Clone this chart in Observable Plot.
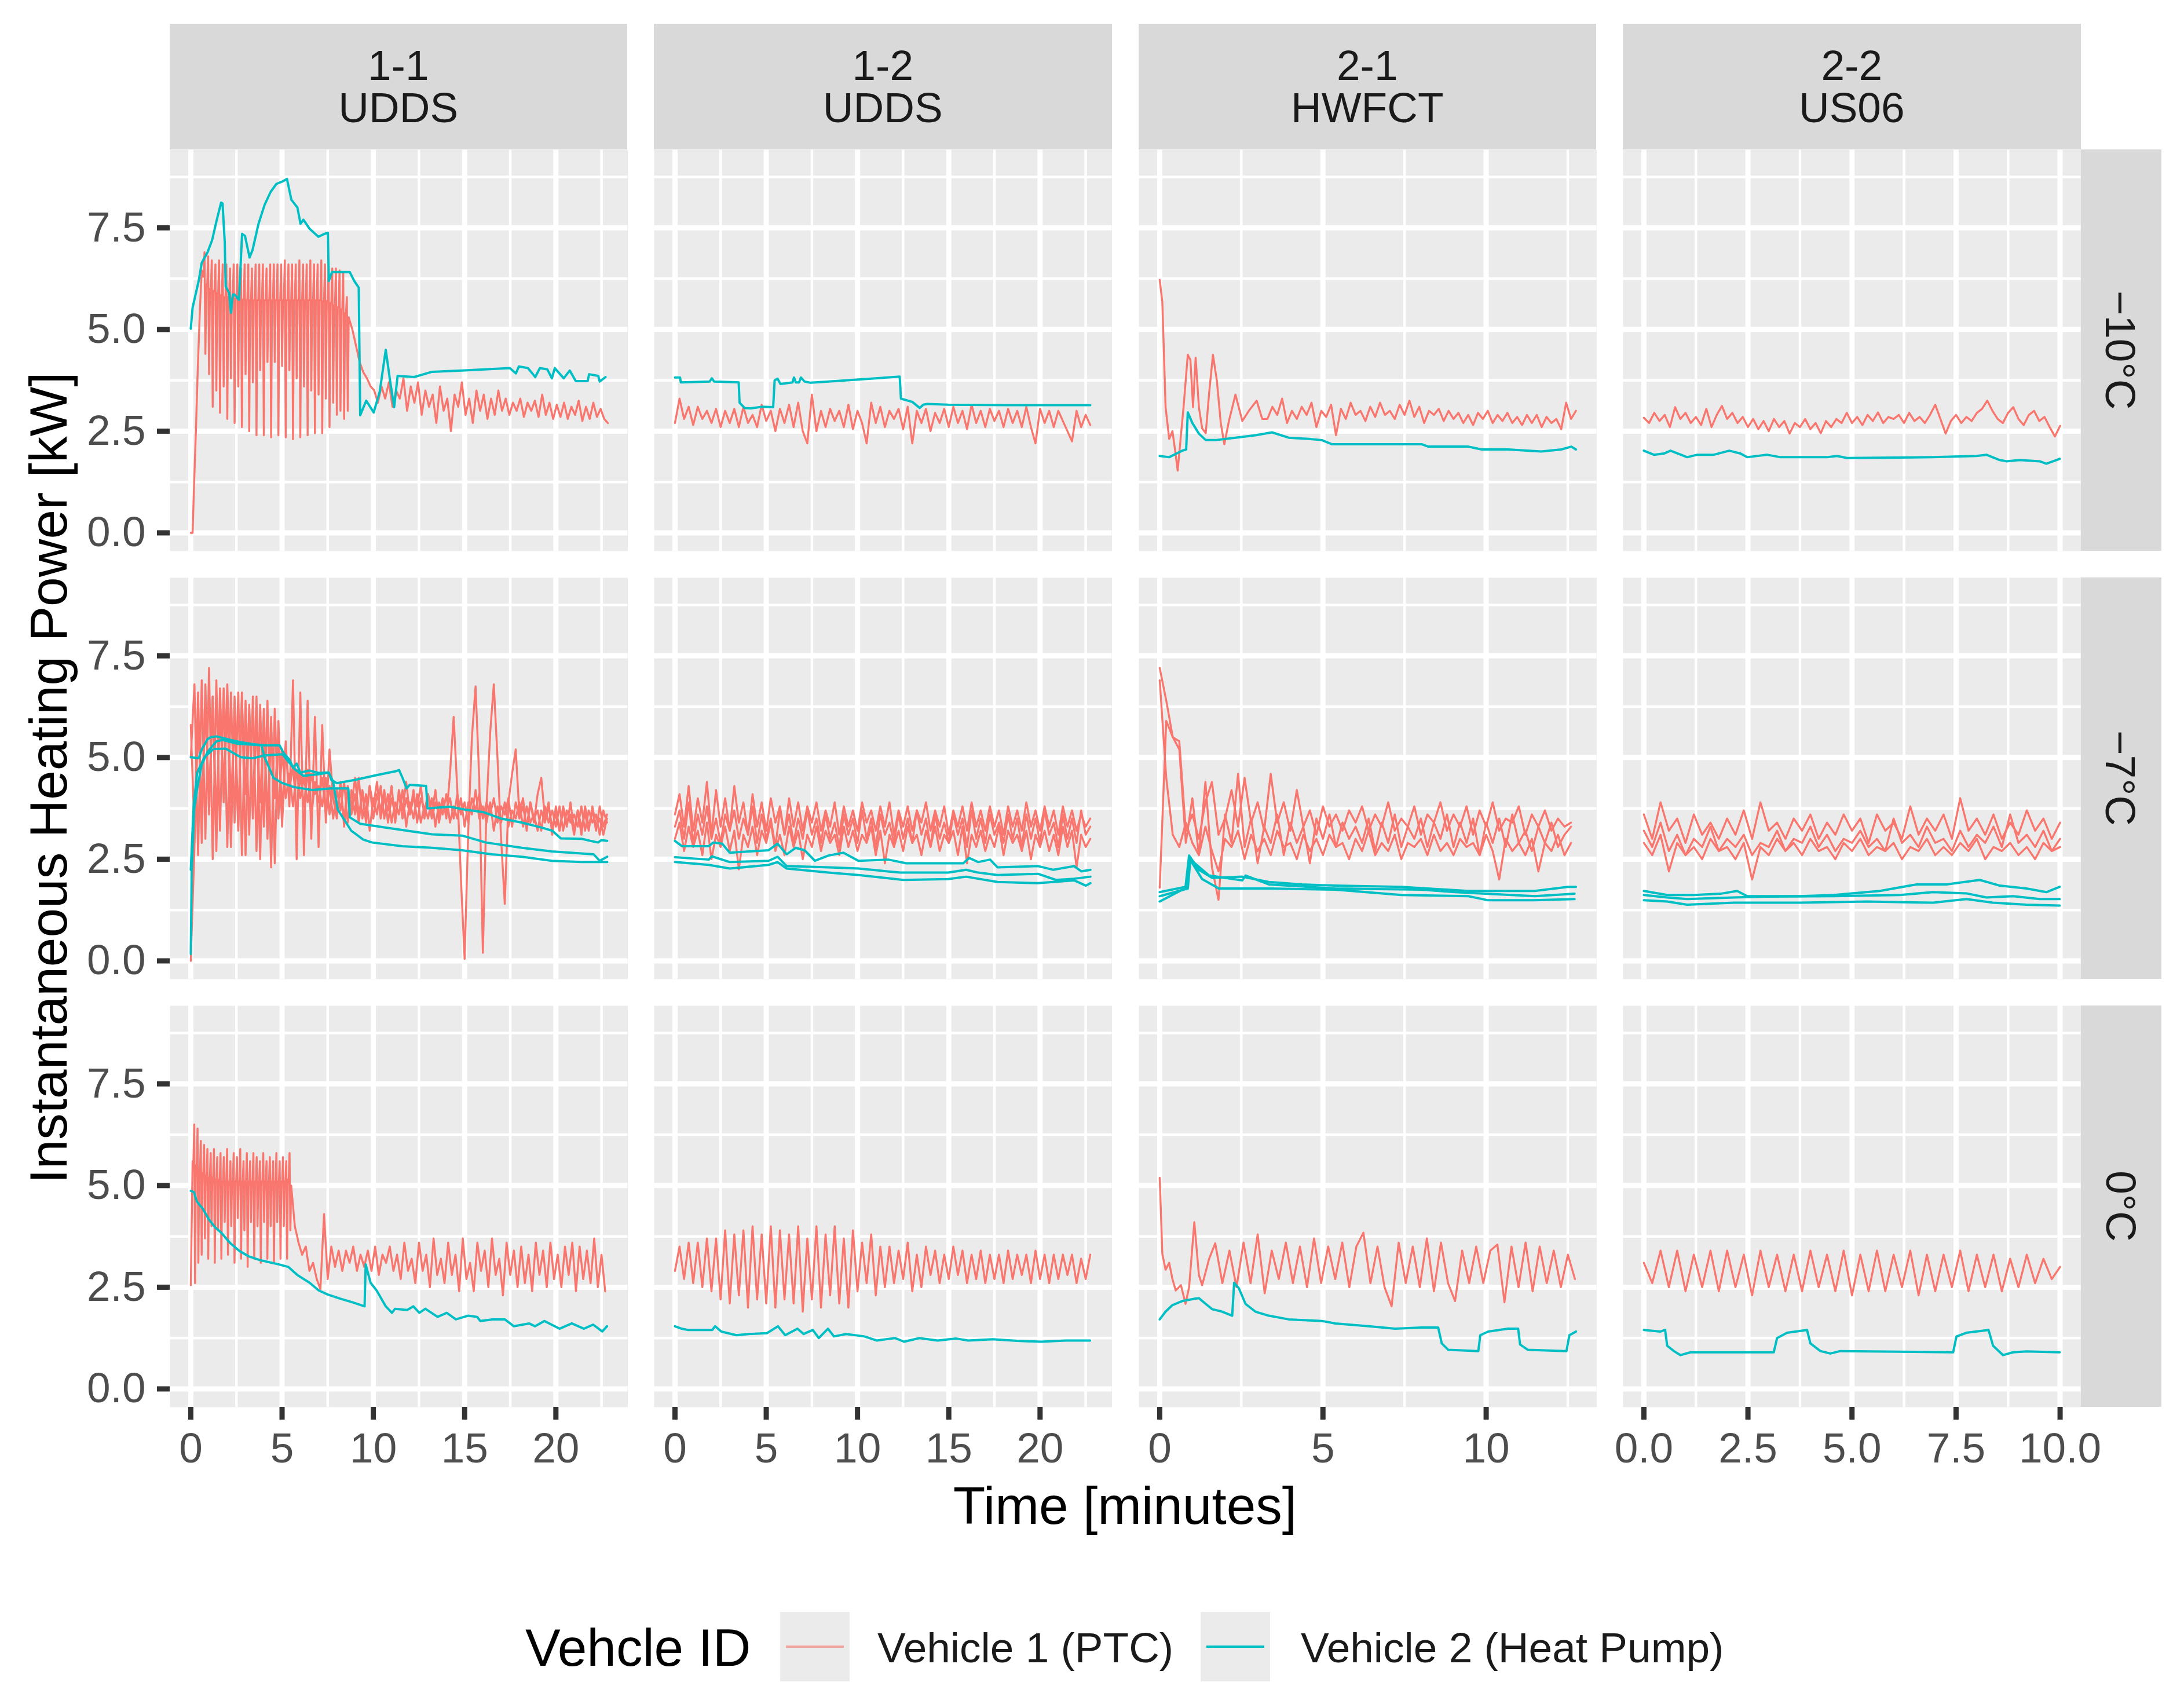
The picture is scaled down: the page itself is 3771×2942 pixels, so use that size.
<!DOCTYPE html>
<html>
<head>
<meta charset="utf-8">
<script src="https://cdn.jsdelivr.net/npm/d3@7"></script>
<script src="https://cdn.jsdelivr.net/npm/@observablehq/plot@0.6"></script>
<style>
  body { margin: 0; background: #fff; }
  #fig { position: relative; width: 3771px; height: 2942px; background: #fff; overflow: hidden;
         font-family: "Liberation Sans", Arial, Helvetica, sans-serif; color: #1A1A1A; }
  .strip { position: absolute; background: #D9D9D9; display: flex; align-items: center;
           justify-content: center; text-align: center; font-size: 73px; line-height: 73px; color: #1A1A1A; }
  .rstrip span { display: block; transform: rotate(90deg); white-space: nowrap; }
  .txt { position: absolute; white-space: nowrap; }
  .key { position: absolute; width: 120px; height: 120px; background: #EBEBEB; }
  .key div { position: absolute; left: 10px; right: 10px; top: 58px; height: 4px; }
</style>
</head>
<body>
<div id="fig"></div>
<script>
// ---- facets ----
const temps = ["\u221210\u00b0C", "\u22127\u00b0C", "0\u00b0C"];
const tests = ["1-1", "1-2", "2-1", "2-2"];
const cycles = ["UDDS", "UDDS", "HWFCT", "US06"];
const cycleMinutes = [22.8, 22.8, 12.75, 10];
const yMajor = [0, 2.5, 5, 7.5];
const yMinor = [1.25, 3.75, 6.25, 8.75];
const yLimits = [-0.449, 9.42];
const xMajor = [[0, 5, 10, 15, 20], [0, 5, 10, 15, 20], [0, 5, 10], [0, 2.5, 5, 7.5, 10]];
const xMinor = [[2.5, 7.5, 12.5, 17.5, 22.5], [2.5, 7.5, 12.5, 17.5, 22.5], [2.5, 7.5, 12.5], [1.25, 3.75, 6.25, 8.75]];
const vehicles = ["Vehicle 1 (PTC)", "Vehicle 2 (Heat Pump)"];
const vehColors = ["#F8766D", "#00BFC4"];

// ---- -10°C ----
// PTC, 1-1: start [t, kW], comb sampled every 0.05 min from 0.65, tail every 0.2 min from 8.65
const m10_11_ptc_start = [[0,0],[0.1,0],[0.18,1.2],[0.28,2.5],[0.38,4.0],[0.5,5.5],[0.6,6.45]];
const m10_11_ptc_comb = [
  6.3,6.3,6.9,4.4, 6.1,6.1,6.8,3.9, 6.0,6.0,6.7,3.1, 5.95,5.95,6.6,3.5, 5.9,5.9,6.7,2.95,
  5.85,5.85,6.6,3.6, 5.8,5.8,6.6,2.8, 5.8,5.8,6.5,3.8, 5.78,5.78,6.6,2.7, 5.76,5.76,6.6,3.6,
  5.75,5.75,6.5,2.6, 5.74,5.74,6.6,3.9, 5.73,5.73,6.6,2.5, 5.72,5.72,6.5,3.7, 5.72,5.72,6.6,2.4,
  5.72,5.72,6.6,4.0, 5.72,5.72,6.6,2.4, 5.72,5.72,6.5,4.2, 5.72,5.72,6.6,2.35, 5.72,5.72,6.6,4.2,
  5.72,5.72,6.6,2.4, 5.72,5.72,6.6,4.1, 5.72,5.72,6.7,2.35, 5.72,5.72,6.6,4.0, 5.72,5.72,6.6,2.3,
  5.72,5.72,6.6,3.8, 5.72,5.72,6.7,2.35, 5.72,5.72,6.6,3.6, 5.72,5.72,6.6,2.4, 5.72,5.72,6.7,3.5,
  5.72,5.72,6.6,2.45, 5.72,5.72,6.6,3.4, 5.72,5.72,6.7,2.45, 5.7,5.7,6.6,3.3, 5.7,5.7,6.6,2.6,
  5.65,5.65,6.5,3.2, 5.6,5.6,6.5,2.9, 5.55,5.55,6.45,3.0, 5.5,5.5,6.4,2.8, 5.4,5.4,5.8,3.0];
const m10_11_ptc_tail = [
  5.3,5.0,4.6,4.2,3.95,3.8,3.6,3.5,3.2,3.6, 3.3,3.7,3.1,3.5,3.3,3.8,3.0,3.6,3.2,3.7,
  2.9,3.5,3.1,3.4,2.7,3.6,3.0,3.3,2.5,3.4, 3.1,3.7,2.9,3.3,2.7,3.5,3.0,3.4,2.8,3.3,
  2.9,3.5,3.0,3.3,2.9,3.2,3.0,3.3,2.85,3.2, 3.0,3.25,2.85,3.4,2.9,3.2,2.8,3.15,2.85,3.2,
  2.8,3.1,2.9,3.25,2.75,3.1,2.8,3.2,2.85,3.05, 2.8,2.7];
const m10_11_hp = [[0,5.02],[0.1,5.54],[0.43,6.19],[0.6,6.64],[0.92,6.9],[1.17,7.2],[1.41,7.67],[1.66,8.12],[1.74,8.1],
  [1.84,7.3],[1.86,7.15],[1.91,6.06],[2.1,5.9],[2.2,5.41],[2.3,5.86],[2.4,5.86],[2.64,5.73],[2.81,7.35],[2.97,7.3],
  [3.22,6.77],[3.38,6.95],[3.71,7.6],[4.04,8.06],[4.37,8.38],[4.69,8.58],[5.02,8.64],[5.27,8.7],[5.51,8.19],[5.84,8.0],
  [6.01,7.6],[6.17,7.7],[6.5,7.48],[6.99,7.28],[7.32,7.35],[7.51,7.38],[7.56,6.19],[7.73,6.41],[8.71,6.41],[8.96,6.19],
  [9.2,6.03],[9.28,2.89],[9.61,3.25],[10.02,2.96],[10.35,3.47],[10.68,4.5],[10.92,3.73],[11.14,3.09],[11.33,3.86],
  [12.23,3.83],[13.22,3.96],[14.86,3.99],[17.48,4.05],[17.81,3.92],[17.97,4.09],[18.47,4.05],[18.87,3.83],[19.12,4.05],
  [19.53,4.02],[19.78,3.8],[19.94,4.05],[20.43,3.8],[20.76,3.99],[21.09,3.73],[21.74,3.73],[21.82,3.9],[22.32,3.86],
  [22.4,3.72],[22.72,3.83]];
// PTC, 1-2: every 0.25 min
const m10_12_ptc = [
  2.7,3.3,2.8,3.1,2.65,3.1,2.8,3.0,2.7,3.05, 2.6,3.0,2.7,3.05,2.6,3.1,2.7,2.9,2.6,3.15,
  2.75,3.0,2.5,3.05,2.7,3.15,2.6,3.2,2.5,2.2, 3.4,2.5,3.0,2.6,3.05,2.75,3.0,2.6,3.15,2.55,
  3.0,2.7,2.2,3.2,2.7,3.1,2.6,3.0,2.8,3.05, 2.55,3.1,2.2,3.0,2.7,3.05,2.5,2.95,2.7,3.05,
  2.6,3.1,2.7,3.0,2.55,3.15,2.7,3.0,2.6,3.05, 2.75,3.0,2.6,3.05,2.7,3.0,2.6,3.1,2.6,2.2,
  3.05,2.7,3.0,2.6,3.0,2.75,2.5,2.25,3.0,2.6, 2.9,2.65];
const m10_12_hp = [[0,3.82],[0.28,3.82],[0.32,3.7],[1.9,3.72],[2.02,3.8],[2.15,3.72],[3.49,3.7],[3.54,3.2],[3.82,3.07],
  [4.15,3.06],[4.8,3.1],[5.38,3.09],[5.46,3.75],[5.62,3.79],[5.78,3.66],[6.44,3.7],[6.52,3.82],[6.62,3.7],[6.8,3.7],
  [6.9,3.82],[7.1,3.72],[7.43,3.69],[8.41,3.72],[10.05,3.77],[12.31,3.84],[12.38,3.3],[13.0,3.22],[13.41,3.07],
  [13.6,3.15],[13.82,3.17],[14.97,3.15],[18.25,3.14],[22.75,3.14]];
// PTC, 2-1: start [t, kW], then every 0.15 min from 3.3
const m10_21_ptc_start = [[0,6.22],[0.08,5.67],[0.18,3.09],[0.29,2.31],[0.39,2.5],[0.49,1.92],[0.55,1.53],[0.65,2.4],
  [0.73,3.09],[0.86,4.38],[0.94,4.25],[1.02,3.09],[1.1,4.31],[1.2,3.09],[1.3,2.57],[1.41,2.45],[1.51,3.4],[1.63,4.38],
  [1.75,3.75],[1.87,2.7],[1.98,2.18],[2.12,2.75],[2.32,3.4],[2.53,2.75],[2.73,3.0],[2.97,3.25],[3.14,2.8]];
const m10_21_ptc_tail = [
  2.8,3.1,2.9,3.3,2.7,3.0,2.8,3.1,2.9,3.2, 2.6,3.0,2.85,3.15,2.4,3.05,2.8,3.2,2.9,3.0,
  2.75,3.1,2.85,3.2,2.9,3.0,2.8,3.15,2.9,3.25, 2.85,3.1,2.7,3.0,2.9,3.05,2.75,3.0,2.8,2.95,
  2.7,2.9,2.65,2.95,2.8,3.0,2.7,2.9,2.75,2.95, 2.7,2.85,2.65,2.9,2.7,2.9,2.6,2.85,2.7,2.8,
  2.55,3.2,2.8,3.0];
const m10_21_hp = [[0,1.89],[0.29,1.86],[0.69,2.02],[0.81,2.05],[0.86,2.96],[1.0,2.7],[1.2,2.44],[1.41,2.28],[1.71,2.28],
  [2.32,2.34],[2.93,2.4],[3.44,2.47],[3.95,2.34],[4.56,2.31],[4.97,2.28],[5.27,2.18],[6.19,2.18],[8.02,2.18],[8.23,2.12],
  [9.45,2.12],[9.86,2.05],[10.67,2.05],[11.69,2.0],[12.3,2.05],[12.61,2.12],[12.75,2.05]];
// PTC, 2-2: every 0.125 min
const m10_22_ptc = [
  2.83,2.7,2.95,2.75,2.9,2.6,3.09,2.8,2.95,2.7, 2.85,2.65,3.05,2.6,2.9,3.12,2.8,2.95,2.7,2.85,
  2.6,2.8,2.55,2.75,2.5,2.8,2.6,2.75,2.44,2.7, 2.6,2.8,2.55,2.7,2.45,2.75,2.6,2.8,2.7,2.95,
  2.7,2.85,2.65,2.9,2.75,2.96,2.7,2.85,2.8,2.9, 2.7,2.95,2.75,2.85,2.7,2.9,3.15,2.8,2.44,2.75,
  2.9,2.7,2.85,2.75,2.95,3.05,3.25,3.0,2.8,2.7, 2.95,3.09,2.8,2.65,2.9,3.0,2.75,2.85,2.6,2.37,
  2.63];
const m10_22_hp = [[0,2.02],[0.24,1.92],[0.48,1.95],[0.64,2.02],[1.04,1.86],[1.28,1.92],[1.68,1.92],[2.05,2.02],[2.32,1.95],
  [2.48,1.86],[2.96,1.92],[3.28,1.86],[4.4,1.86],[4.64,1.89],[4.88,1.84],[6.95,1.86],[7.99,1.89],[8.23,1.92],[8.55,1.79],
  [8.71,1.76],[9.03,1.79],[9.51,1.76],[9.67,1.7],[9.91,1.79],[9.99,1.82]];

// ---- -7°C (three repeats per vehicle) ----
// PTC, 1-1: every 0.2 min
const m7_11_ptc_a = [
  5.0,6.8,2.6,6.9,3.0,7.2,2.5,6.9,3.2,6.7, 2.8,6.6,3.4,6.6,2.6,6.4,3.1,6.5,2.7,6.3,
  3.3,6.4,2.3,6.2,3.5,5.2,4.0,4.6,3.8,4.7, 4.0,4.5,3.9,4.6,4.1,4.3,3.8,4.5,3.6,4.4,
  3.7,4.2,3.5,4.3,3.6,4.1,3.4,4.2,3.6,4.3, 3.5,4.1,3.7,4.2,3.4,4.0,3.6,4.1,3.5,4.0,
  3.6,4.2,3.4,4.0,3.7,4.1,3.5,3.9,3.6,4.0, 3.5,4.6,6.0,4.2,2.0,0.05,3.2,5.5,6.75,4.5,
  0.2,3.8,5.6,6.8,5.0,3.0,1.4,3.9,4.6,5.2, 3.6,4.0,3.2,3.9,3.4,4.1,4.5,3.5,3.9,3.1,
  3.8,3.2,3.7,3.3,3.9,3.2,3.7,3.1,3.8,3.3, 3.7,3.2,3.8,3.3,3.6];
const m7_11_ptc_b = [
  5.8,3.2,6.6,2.9,6.8,3.6,6.5,2.7,6.7,3.9, 6.4,2.8,6.5,3.3,6.6,2.6,6.3,3.7,6.5,2.5,
  6.2,3.4,6.0,2.4,5.9,3.6,5.4,3.8,6.9,2.5, 6.6,2.6,6.4,3.0,6.0,2.8,5.8,3.4,5.2,4.0,
  3.5,4.4,3.3,4.2,3.8,4.5,3.6,4.1,3.4,4.3, 3.8,4.4,3.5,4.0,3.7,4.3,3.4,4.2,3.7,4.4,
  3.6,4.0,3.8,4.3,3.5,4.1,3.6,4.2,3.4,3.9, 3.7,4.0,3.5,4.1,3.6,3.9,3.4,4.0,3.7,4.1,
  3.5,3.9,3.6,4.0,3.4,3.8,3.6,4.0,3.3,3.9, 3.5,3.8,3.3,3.9,3.5,3.7,3.2,3.8,3.4,3.7,
  3.3,3.8,3.2,3.7,3.4,3.6,3.3,3.8,3.2,3.7, 3.4,3.6,3.1,3.7,3.4];
const m7_11_ptc_c = [
  0.0,2.8,5.9,3.8,6.2,4.0,6.5,3.5,6.1,4.2, 6.8,3.9,6.0,3.2,6.4,4.1,6.1,3.5,5.9,3.9,
  6.0,3.0,5.7,4.0,5.6,3.3,5.2,4.2,4.8,3.6, 4.6,3.8,4.7,3.5,4.4,3.9,4.5,3.6,4.3,3.5,
  4.2,3.7,4.4,3.4,4.2,3.6,4.5,3.5,4.1,3.2, 4.0,3.6,4.3,3.5,4.1,3.4,3.9,3.6,4.2,3.3,
  3.9,3.5,4.1,3.4,3.8,3.5,4.0,3.3,3.9,3.6, 4.1,3.4,3.8,3.5,4.0,3.3,3.9,3.6,4.2,3.5,
  3.8,3.4,3.9,3.2,3.8,3.4,3.9,3.3,3.7,3.5, 3.9,3.3,3.8,3.4,3.6,3.2,3.7,3.4,3.8,3.3,
  3.6,3.2,3.8,3.4,3.6,3.1,3.7,3.3,3.6,3.2, 3.8,3.3,3.5,3.1,3.5];
const m7_11_hp_a = [[0,5.01],[0.43,4.98],[0.6,5.2],[0.92,5.45],[1.09,5.5],[1.41,5.52],[2.0,5.45],[2.7,5.38],[3.4,5.33],
  [4.0,5.3],[4.86,5.3],[5.1,5.1],[5.4,4.95],[5.6,4.75],[5.8,4.85],[6.0,4.63],[6.5,4.68],[7.0,4.62],[7.56,4.63],[7.7,4.45],
  [8.0,4.37],[9.0,4.45],[10.0,4.55],[10.76,4.62],[11.2,4.66],[11.41,4.69],[11.6,4.5],[11.82,4.24],[12.0,4.33],[12.89,4.3],
  [12.97,3.75],[14.2,3.79],[15.0,3.72],[16.0,3.66],[16.99,3.5],[18.14,3.4],[19.28,3.27],[19.8,3.2],[20.27,3.01],
  [21.41,3.0],[22.31,2.91],[22.5,2.97],[22.81,2.95]];
const m7_11_hp_b = [[0,0.17],[0.05,2.2],[0.18,3.72],[0.35,4.24],[0.6,4.82],[0.92,5.14],[1.41,5.4],[1.74,5.43],[2.56,5.34],
  [3.87,5.3],[4.04,5.01],[4.53,4.5],[5.02,4.37],[5.68,4.27],[6.66,4.2],[7.64,4.24],[8.63,4.24],[8.71,3.53],[9.28,3.37],
  [10.76,3.27],[13.22,3.11],[14.86,3.08],[16.17,2.91],[18.14,2.78],[19.78,2.69],[22.07,2.62],[22.4,2.46],[22.81,2.56]];
const m7_11_hp_c = [[0,2.24],[0.16,3.85],[0.35,4.63],[0.75,5.01],[1.25,5.21],[1.91,5.22],[2.73,5.01],[3.38,4.98],
  [4.04,5.05],[5.02,5.08],[5.35,4.9],[5.68,4.72],[6.17,4.55],[6.99,4.59],[7.56,4.63],[7.8,4.4],[8.05,3.72],[8.79,3.2],
  [9.45,2.98],[9.94,2.91],[11.58,2.82],[13.22,2.78],[14.86,2.72],[16.5,2.62],[18.14,2.56],[19.78,2.46],[21.41,2.43],
  [22.81,2.43]];
// PTC, 1-2: every 0.25 min
const m7_12_ptc_a = [
  3.6,4.1,3.3,4.3,3.2,4.0,3.4,4.4,3.1,4.2, 3.3,4.0,3.2,4.3,3.4,3.9,3.1,4.1,3.3,3.9,
  3.2,4.0,3.4,3.8,3.1,4.0,3.3,3.9,3.2,3.8, 3.4,3.9,3.2,3.7,3.3,3.9,3.1,3.8,3.3,3.7,
  3.2,3.9,3.4,3.7,3.2,3.8,3.3,3.9,3.1,3.7, 3.3,3.8,3.2,3.7,3.4,3.9,3.2,3.7,3.3,3.8,
  3.1,3.7,3.3,3.8,3.2,3.9,3.3,3.7,3.2,3.8, 3.3,3.7,3.1,3.8,3.3,3.7,3.2,3.9,3.3,3.7,
  3.2,3.8,3.3,3.7,3.1,3.8,3.3,3.7,3.2,3.6, 3.3,3.5];
const m7_12_ptc_b = [
  3.0,3.4,2.7,3.3,2.8,3.2,2.6,3.4,2.5,3.1, 2.8,3.3,2.7,3.2,2.25,3.1,2.8,3.3,2.6,3.2,
  2.9,3.4,2.7,3.1,2.6,3.3,2.8,3.2,2.5,3.1, 2.8,3.3,2.7,3.2,2.9,3.1,2.6,3.3,2.8,3.2,
  2.7,3.1,2.9,3.3,2.6,3.2,2.4,3.1,2.8,3.2, 2.7,3.3,2.9,3.1,2.6,3.2,2.8,3.3,2.7,3.1,
  2.9,3.2,2.6,3.3,2.4,3.1,2.8,3.2,2.7,3.1, 2.8,3.3,2.6,3.2,2.9,3.1,2.7,3.2,2.5,3.1,
  2.8,3.2,2.7,3.1,2.6,3.3,2.8,3.2,2.3,3.1, 2.8,3.0];
const m7_12_ptc_c = [
  3.3,3.7,3.0,3.9,2.9,3.6,3.1,3.8,3.0,3.5, 2.9,3.6,3.2,3.7,3.0,3.5,3.1,3.8,2.9,3.6,
  3.0,3.5,2.8,3.7,3.1,3.6,2.9,3.5,3.0,3.7, 3.1,3.5,2.9,3.6,3.0,3.4,2.8,3.6,3.1,3.5,
  2.9,3.7,3.0,3.5,2.8,3.6,3.1,3.4,2.9,3.6, 3.0,3.5,2.9,3.7,3.1,3.5,2.8,3.6,3.0,3.4,
  2.9,3.6,3.1,3.5,2.8,3.7,3.0,3.5,2.9,3.6, 3.1,3.4,2.9,3.6,3.0,3.5,2.8,3.6,3.0,3.5,
  2.9,3.7,3.1,3.4,2.8,3.6,3.0,3.5,2.9,3.7, 3.1,3.3];
const m7_12_hp_a = [[0,2.95],[0.38,2.82],[1.85,2.82],[2.1,2.91],[2.59,2.88],[3.0,2.66],[5.13,2.72],[5.62,2.88],[6.12,2.62],
  [6.61,2.78],[7.1,2.72],[7.67,2.46],[8.41,2.59],[9.23,2.66],[10.05,2.46],[11.69,2.49],[12.67,2.4],[15.79,2.4],[16.12,2.53],
  [16.61,2.43],[17.26,2.49],[17.67,2.3],[19.89,2.33],[20.71,2.24],[21.86,2.33],[22.26,2.2],[22.76,2.24]];
const m7_12_hp_b = [[0,2.55],[1.85,2.49],[2.02,2.57],[3.0,2.43],[5.13,2.46],[5.62,2.56],[6.12,2.33],[8.41,2.3],[10.05,2.27],
  [12.34,2.17],[14.97,2.17],[15.95,2.24],[16.61,2.17],[17.67,2.11],[19.89,2.14],[20.87,1.99],[21.86,2.02],[22.76,2.07]];
const m7_12_hp_c = [[0,2.43],[1.85,2.36],[3.0,2.27],[5.13,2.36],[5.62,2.43],[6.12,2.27],[8.41,2.17],[10.05,2.11],[12.51,1.99],
  [14.97,2.01],[15.95,2.07],[17.67,1.94],[19.89,1.91],[21.86,1.98],[22.51,1.85],[22.76,1.91]];
// PTC, 2-1: every 0.2 min
const m7_21_ptc_a = [
  7.2,6.4,5.5,5.4,3.2,3.6,3.0,3.9,4.4,3.1, 3.5,4.2,3.3,4.5,3.4,3.9,3.2,4.6,3.4,3.9,
  3.2,4.2,3.3,3.7,3.1,3.8,3.3,3.6,3.2,3.7, 3.4,3.8,3.2,3.6,3.3,3.9,3.2,3.5,3.3,3.8,
  3.1,3.6,3.4,3.9,3.2,3.6,3.3,3.8,3.1,3.7, 3.3,3.9,3.2,3.5,3.4,3.8,3.1,3.6,3.3,3.7,
  3.2,3.5,3.3,3.4];
const m7_21_ptc_b = [
  6.9,4.5,3.1,2.8,3.4,2.9,2.6,3.3,2.7,2.2, 3.0,2.8,3.2,2.5,3.1,2.7,3.0,2.6,3.2,2.8,
  2.9,2.5,3.1,2.7,3.0,2.6,3.1,2.8,2.9,2.5, 3.0,2.7,3.2,2.6,2.9,2.7,3.1,2.5,2.9,2.8,
  3.0,2.6,3.1,2.7,2.9,2.6,3.0,2.8,2.9,2.6, 3.1,2.7,2.0,3.0,2.7,2.9,2.6,3.0,2.2,2.9,
  2.7,3.1,2.6,2.9];
const m7_21_ptc_c = [
  1.8,5.9,5.5,5.2,2.9,4.0,2.6,4.4,2.3,1.5, 3.6,2.9,4.6,2.8,3.5,2.4,3.3,2.9,3.6,2.6,
  3.4,2.9,3.3,2.4,3.5,3.0,3.6,2.8,3.4,3.0, 3.3,2.9,3.5,2.7,3.4,2.9,3.6,2.8,3.3,3.0,
  3.5,2.8,3.4,3.0,3.6,2.8,3.4,2.9,3.5,2.6, 3.4,2.9,3.5,2.8,3.6,2.9,3.2,2.7,3.3,2.9,
  3.4,2.8,3.1,3.3];
const m7_21_hp_a = [[0,1.69],[0.79,1.82],[0.9,2.59],[1.2,2.24],[1.61,2.04],[2.53,2.07],[3.34,1.94],[4.36,1.88],[5.38,1.85],
  [7.41,1.82],[9.45,1.72],[11.49,1.72],[12.5,1.82],[12.75,1.82]];
const m7_21_hp_b = [[0,1.46],[0.86,1.82],[0.9,2.53],[1.3,2.01],[1.81,1.78],[3.34,1.78],[5.38,1.75],[7.41,1.62],[9.45,1.59],
  [10.06,1.49],[11.49,1.49],[12.71,1.52]];
const m7_21_hp_c = [[0,1.59],[0.86,1.78],[0.94,2.49],[1.51,2.1],[2.53,1.98],[2.63,2.1],[3.34,1.88],[5.38,1.78],[8.02,1.75],
  [9.04,1.69],[11.49,1.59],[12.71,1.65]];
// PTC, 2-2: every 0.2 min
const m7_22_ptc_a = [
  3.6,3.0,3.9,3.2,3.5,2.9,3.6,3.1,3.4,3.0, 3.5,3.1,3.7,3.0,3.9,3.2,3.4,3.0,3.5,3.2,
  3.6,3.0,3.4,3.1,3.6,3.2,3.5,2.9,3.6,3.2, 3.4,3.0,3.8,3.1,3.5,3.2,3.6,3.0,4.0,3.2,
  3.5,3.1,3.6,3.0,3.4,3.1,3.7,3.2,3.5,3.0, 3.4];
const m7_22_ptc_b = [
  2.9,2.6,3.1,2.2,2.9,2.6,2.8,2.5,3.0,2.7, 2.8,2.5,2.9,2.0,2.8,2.6,3.0,2.7,2.9,2.6,
  3.0,2.7,2.8,2.5,2.9,2.7,3.0,2.6,2.8,2.7, 2.9,2.5,2.8,2.7,3.0,2.6,2.8,2.6,2.9,2.7,
  3.0,2.5,2.8,2.7,2.9,2.6,2.8,2.5,2.9,2.7, 2.8];
const m7_22_ptc_c = [
  3.2,2.8,3.4,2.7,3.1,2.6,3.0,2.8,3.3,2.7, 3.0,2.8,3.1,2.6,2.9,2.8,3.2,2.7,3.0,2.9,
  3.3,2.8,3.1,2.7,3.0,2.9,3.2,2.8,3.0,2.7, 3.5,2.9,3.1,2.8,3.3,2.9,3.0,2.7,3.2,2.8,
  3.1,2.9,3.3,2.8,3.6,2.9,3.1,2.8,3.2,2.7, 3.0];
const m7_22_hp_a = [[0,1.72],[0.56,1.62],[1.2,1.62],[1.84,1.65],[2.24,1.72],[2.48,1.59],[3.76,1.59],[4.56,1.62],[5.67,1.72],
  [6.55,1.88],[7.27,1.88],[8.07,1.99],[8.55,1.85],[9.19,1.78],[9.67,1.69],[9.99,1.82]];
const m7_22_hp_b = [[0,1.62],[0.56,1.56],[1.04,1.52],[2.16,1.56],[2.96,1.58],[4.56,1.59],[6.15,1.62],[6.95,1.69],[7.75,1.66],
  [8.23,1.56],[8.87,1.59],[9.51,1.52],[9.99,1.52]];
const m7_22_hp_c = [[0,1.49],[0.56,1.46],[1.04,1.38],[2.16,1.43],[3.76,1.43],[5.36,1.46],[6.95,1.43],[7.75,1.52],[8.39,1.43],
  [9.19,1.38],[9.99,1.36]];

// ---- 0°C ----
// PTC, 1-1: start, comb every 0.045 min from 0.1, tail every 0.2 min from 5.5
const p0_11_ptc_start = [[0,2.55]];
const p0_11_ptc_comb = [
  5.6,5.6,6.5,2.6, 5.5,5.5,6.4,3.1, 5.4,5.4,6.1,3.3, 5.3,5.3,6.0,3.7, 5.25,5.25,5.9,3.2,
  5.2,5.2,5.8,4.0, 5.2,5.2,5.9,3.1, 5.15,5.15,5.7,3.9, 5.15,5.15,5.8,3.2, 5.1,5.1,5.7,4.1,
  5.1,5.1,5.9,3.3, 5.1,5.1,5.6,4.0, 5.1,5.1,5.8,3.1, 5.1,5.1,5.7,4.2, 5.1,5.1,5.9,3.2,
  5.1,5.1,5.6,3.9, 5.1,5.1,5.8,3.0, 5.1,5.1,5.6,4.1, 5.1,5.1,5.8,3.2, 5.1,5.1,5.7,4.0,
  5.1,5.1,5.6,3.1, 5.1,5.1,5.8,4.1, 5.1,5.1,5.6,3.2, 5.1,5.1,5.7,4.0, 5.1,5.1,5.6,3.1,
  5.1,5.1,5.8,4.1, 5.1,5.1,5.6,3.2, 5.1,5.1,5.7,4.0, 5.1,5.1,5.6,3.2, 5.15,5.15,5.8,3.9];
const p0_11_ptc_tail = [
  5.0,4.0,3.6,3.3,3.5,2.9,3.1,2.7,2.45,4.3, 2.7,3.5,3.0,3.4,2.9,3.4,3.1,3.5,2.9,3.3,
  3.0,3.4,2.9,3.5,2.8,3.3,3.1,3.5,2.9,3.3, 2.7,3.6,2.9,3.2,2.6,3.6,2.9,3.3,2.5,3.7,
  2.8,3.2,2.6,3.6,2.8,3.3,2.4,3.7,2.7,3.1, 2.4,3.6,2.9,3.4,2.5,3.7,2.8,3.2,2.3,3.6,
  2.8,3.4,2.5,3.5,2.6,3.3,2.4,3.6,2.8,3.4, 2.5,3.6,2.7,3.3,2.5,3.5,2.8,3.6,2.4,3.5,
  2.7,3.4,2.6,3.7,2.5,3.3,2.4];
const p0_11_hp = [[0,4.87],[0.17,4.84],[0.33,4.61],[0.67,4.42],[1.0,4.16],[1.34,3.97],[1.67,3.84],[2.17,3.58],[2.67,3.39],
  [3.17,3.26],[3.84,3.16],[4.84,3.06],[5.34,3.0],[5.84,2.8],[6.51,2.61],[7.01,2.42],[7.51,2.32],[8.18,2.22],[8.85,2.13],
  [9.52,2.03],[9.58,3.06],[9.85,2.61],[10.18,2.42],[10.68,2.03],[11.02,1.87],[11.19,1.97],[11.85,1.94],[12.19,2.03],
  [12.52,1.87],[12.85,1.97],[13.52,1.77],[14.02,1.87],[14.52,1.71],[15.19,1.8],[15.69,1.77],[15.86,1.67],[16.53,1.71],
  [17.2,1.71],[17.7,1.54],[18.53,1.61],[18.86,1.54],[19.37,1.67],[20.2,1.48],[20.87,1.61],[21.54,1.48],[22.04,1.58],
  [22.54,1.41],[22.8,1.54]];
// PTC, 1-2: every 0.25 min
const p0_12_ptc = [
  2.9,3.5,2.7,3.6,2.6,3.6,2.5,3.7,2.4,3.7, 2.2,3.9,2.1,3.8,2.3,3.9,2.0,4.0,2.2,3.8,
  2.1,4.0,2.0,3.9,2.2,3.8,2.1,4.0,1.9,3.7, 2.2,4.0,2.0,3.8,2.3,4.0,2.1,3.7,2.0,3.9,
  2.4,3.6,2.6,3.8,2.3,3.5,2.5,3.5,2.6,3.4, 2.7,3.6,2.4,3.3,2.5,3.5,2.8,3.4,2.6,3.3,
  2.7,3.5,2.8,3.4,2.6,3.3,2.7,3.4,2.6,3.3, 2.7,3.3,2.6,3.4,2.7,3.3,2.8,3.3,2.6,3.4,
  2.7,3.3,2.6,3.3,2.7,3.3,2.8,3.3,2.6,3.2, 2.7,3.3];
const p0_12_hp = [[0,1.54],[0.37,1.48],[0.7,1.45],[2.04,1.45],[2.2,1.54],[2.54,1.41],[3.37,1.32],[4.04,1.35],[5.04,1.37],
  [5.64,1.54],[6.04,1.32],[6.71,1.48],[7.05,1.35],[7.55,1.45],[7.88,1.25],[8.38,1.48],[8.71,1.29],[9.38,1.35],[10.38,1.29],
  [11.05,1.19],[12.05,1.25],[12.55,1.16],[13.39,1.25],[14.39,1.19],[15.39,1.24],[16.06,1.19],[17.4,1.22],[18.73,1.18],
  [20.07,1.16],[21.4,1.19],[22.74,1.19]];
// PTC, 2-1: start, then every 0.216 min from 1.92
const p0_21_ptc_start = [[0,5.19],[0.08,3.32],[0.18,2.93],[0.29,3.1],[0.39,2.7],[0.49,2.42],[0.65,2.55],[0.79,2.09],[0.9,2.5],
  [1.06,4.1],[1.2,2.8],[1.3,2.55],[1.51,3.19],[1.7,3.58]];
const p0_21_ptc_tail = [
  2.6,3.4,2.5,3.6,2.6,3.8,2.35,3.4,2.7,3.6, 2.6,3.5,2.5,3.7,2.6,3.5,2.7,3.6,2.5,3.5,
  3.84,2.6,3.5,2.5,2.03,3.6,2.6,3.5,2.5,3.7, 2.4,3.6,2.6,2.16,3.4,2.6,3.5,2.6,3.4,3.55,
  2.13,3.5,2.5,3.6,2.4,3.5,2.6,3.4,2.5,3.3, 2.7];
const p0_21_hp = [[0,1.71],[0.18,1.9],[0.39,2.06],[0.69,2.16],[1.1,2.22],[1.2,2.23],[1.41,2.09],[1.61,1.96],[1.91,1.9],
  [2.22,1.8],[2.28,2.61],[2.42,2.48],[2.63,2.09],[2.93,1.9],[3.34,1.8],[3.95,1.71],[4.97,1.67],[5.38,1.61],[6.4,1.54],
  [7.21,1.48],[8.02,1.51],[8.53,1.51],[8.64,1.12],[8.84,0.96],[9.76,0.93],[9.82,1.32],[10.06,1.41],[10.67,1.48],
  [10.98,1.48],[11.04,1.09],[11.28,0.96],[12.46,0.93],[12.55,1.32],[12.75,1.41]];
// PTC, 2-2: every 0.2 min
const p0_22_ptc = [
  3.1,2.6,3.4,2.5,3.4,2.4,3.3,2.5,3.4,2.4, 3.4,2.5,3.3,2.3,3.4,2.5,3.3,2.4,3.3,2.4,
  3.4,2.5,3.3,2.4,3.4,2.3,3.3,2.4,3.4,2.4, 3.3,2.5,3.4,2.3,3.3,2.4,3.3,2.5,3.4,2.4,
  3.3,2.5,3.3,2.4,3.2,2.5,3.3,2.6,3.2,2.7, 3.0];
const p0_22_hp = [[0,1.45],[0.4,1.41],[0.51,1.45],[0.56,1.06],[0.72,0.93],[0.88,0.83],[1.12,0.9],[2.16,0.9],[3.12,0.9],
  [3.2,1.25],[3.44,1.38],[3.92,1.45],[4.0,1.12],[4.24,0.93],[4.48,0.87],[4.72,0.93],[7.43,0.9],[7.51,1.29],[7.75,1.38],
  [8.28,1.45],[8.39,1.06],[8.63,0.83],[8.87,0.9],[9.19,0.92],[9.99,0.9]];

// ---- assemble traces: [row, col, vehicle, repeat, [time, kW] points] ----
const sampled = (t0, dt, vals) => vals.map((v, i) => [t0 + i * dt, v]);
const traces = [
  [0,0,0,"a",[...m10_11_ptc_start, ...sampled(0.65,0.05,m10_11_ptc_comb), ...sampled(8.65,0.2,m10_11_ptc_tail)]],
  [0,0,1,"a",m10_11_hp],
  [0,1,0,"a",sampled(0,0.25,m10_12_ptc)],
  [0,1,1,"a",m10_12_hp],
  [0,2,0,"a",[...m10_21_ptc_start, ...sampled(3.3,0.15,m10_21_ptc_tail)]],
  [0,2,1,"a",m10_21_hp],
  [0,3,0,"a",sampled(0,0.125,m10_22_ptc)],
  [0,3,1,"a",m10_22_hp],
  [1,0,0,"a",sampled(0,0.2,m7_11_ptc_a)], [1,0,0,"b",sampled(0,0.2,m7_11_ptc_b)], [1,0,0,"c",sampled(0,0.2,m7_11_ptc_c)],
  [1,0,1,"a",m7_11_hp_a], [1,0,1,"b",m7_11_hp_b], [1,0,1,"c",m7_11_hp_c],
  [1,1,0,"a",sampled(0,0.25,m7_12_ptc_a)], [1,1,0,"b",sampled(0,0.25,m7_12_ptc_b)], [1,1,0,"c",sampled(0,0.25,m7_12_ptc_c)],
  [1,1,1,"a",m7_12_hp_a], [1,1,1,"b",m7_12_hp_b], [1,1,1,"c",m7_12_hp_c],
  [1,2,0,"a",sampled(0,0.2,m7_21_ptc_a)], [1,2,0,"b",sampled(0,0.2,m7_21_ptc_b)], [1,2,0,"c",sampled(0,0.2,m7_21_ptc_c)],
  [1,2,1,"a",m7_21_hp_a], [1,2,1,"b",m7_21_hp_b], [1,2,1,"c",m7_21_hp_c],
  [1,3,0,"a",sampled(0,0.2,m7_22_ptc_a)], [1,3,0,"b",sampled(0,0.2,m7_22_ptc_b)], [1,3,0,"c",sampled(0,0.2,m7_22_ptc_c)],
  [1,3,1,"a",m7_22_hp_a], [1,3,1,"b",m7_22_hp_b], [1,3,1,"c",m7_22_hp_c],
  [2,0,0,"a",[...p0_11_ptc_start, ...sampled(0.1,0.045,p0_11_ptc_comb), ...sampled(5.5,0.2,p0_11_ptc_tail)]],
  [2,0,1,"a",p0_11_hp],
  [2,1,0,"a",sampled(0,0.25,p0_12_ptc)],
  [2,1,1,"a",p0_12_hp],
  [2,2,0,"a",[...p0_21_ptc_start, ...sampled(1.92,0.216,p0_21_ptc_tail)]],
  [2,2,1,"a",p0_21_hp],
  [2,3,0,"a",sampled(0,0.2,p0_22_ptc)],
  [2,3,1,"a",p0_22_hp]
];

// ---- layout (px) ----
const PX0 = 292.5, PW = 790.5, PY0 = 257.5, PH = 693, GAP = 46;
const ML = 170, MB = 120;
const fig = document.getElementById("fig");

function addDiv(cls, css, html) {
  const d = document.createElement("div");
  d.className = cls;
  Object.assign(d.style, css);
  d.innerHTML = html;
  fig.appendChild(d);
  return d;
}

temps.forEach((temp, r) => {
  tests.forEach((test, c) => {
    const M = cycleMinutes[c];
    const ml = c === 0 ? ML : 0;
    const mb = r === temps.length - 1 ? MB : 0;
    const pts = traces
      .filter(d => d[0] === r && d[1] === c)
      .flatMap(d => d[4].map(([t, kw]) => ({t, kw, veh: d[2], id: d[2] + d[3]})));
    const marks = [
      Plot.frame({fill: "#EBEBEB", stroke: "none"}),
      Plot.ruleY(yMinor, {stroke: "#fff", strokeWidth: 4.5}),
      Plot.ruleX(xMinor[c], {stroke: "#fff", strokeWidth: 4.5}),
      Plot.ruleY(yMajor, {stroke: "#fff", strokeWidth: 9}),
      Plot.ruleX(xMajor[c], {stroke: "#fff", strokeWidth: 9}),
      Plot.line(pts.filter(d => d.veh === 0), {x: "t", y: "kw", z: "id", stroke: vehColors[0], strokeWidth: 3.4, clip: true}),
      Plot.line(pts.filter(d => d.veh === 1), {x: "t", y: "kw", z: "id", stroke: vehColors[1], strokeWidth: 4, clip: true})
    ];
    if (c === 0) marks.push(Plot.axisY(yMajor, {
      tickSize: 22, tickPadding: 20, tickFormat: d => d.toFixed(1), fontSize: 73,
      color: "#4D4D4D", stroke: "#333333", strokeWidth: 9, label: null
    }));
    if (r === temps.length - 1) marks.push(Plot.axisX(xMajor[c], {
      tickSize: 22, tickPadding: 22, tickFormat: c === 3 ? (d => d.toFixed(1)) : (d => String(d)), fontSize: 73,
      color: "#4D4D4D", stroke: "#333333", strokeWidth: 9, label: null
    }));
    const svg = Plot.plot({
      width: PW + ml, height: PH + mb,
      marginLeft: ml, marginRight: 0, marginTop: 0, marginBottom: mb,
      style: {background: "transparent", fontFamily: "Liberation Sans, Arial, sans-serif", fontSize: "73px", overflow: "visible"},
      x: {domain: [-0.05 * M, 1.05 * M], label: null, axis: null},
      y: {domain: yLimits, label: null, axis: null},
      marks
    });
    svg.style.position = "absolute";
    svg.style.left = (PX0 + c * (PW + GAP) - ml) + "px";
    svg.style.top = (PY0 + r * (PH + GAP)) + "px";
    svg.style.maxWidth = "none";
    fig.appendChild(svg);
  });
});

// strips
tests.forEach((test, c) => {
  addDiv("strip", {left: (PX0 + c * (PW + GAP)) + "px", top: "40.5px", width: PW + "px", height: "217px"},
    "<div>" + test + "<br>" + cycles[c] + "</div>");
});
temps.forEach((temp, r) => {
  addDiv("strip rstrip", {left: (PX0 + 4 * PW + 3 * GAP) + "px", top: (PY0 + r * (PH + GAP)) + "px", width: "139px", height: PH + "px"},
    "<span>" + temp + "</span>");
});

// axis titles
addDiv("txt", {left: "-816px", top: "1293px", width: "1800px", height: "100px", lineHeight: "100px",
  textAlign: "center", fontSize: "91px", color: "#000", transform: "rotate(-90deg)"},
  "Instantaneous Heating Power [kW]");
addDiv("txt", {left: "942.5px", top: "2550px", width: "2000px", height: "100px", lineHeight: "100px",
  textAlign: "center", fontSize: "91px", color: "#000"}, "Time [minutes]");

// legend
addDiv("txt", {left: "907px", top: "2795px", height: "100px", lineHeight: "100px", fontSize: "91px", color: "#000"}, "Vehcle ID");
const keyX = [1347, 2073], labX = [1515, 2246];
vehicles.forEach((v, i) => {
  const k = addDiv("key", {left: keyX[i] + "px", top: "2783px"}, "<div></div>");
  k.firstChild.style.background = vehColors[i];
  if (i === 0) k.firstChild.style.opacity = 0.6;
  addDiv("txt", {left: labX[i] + "px", top: "2795px", height: "100px", lineHeight: "100px", fontSize: "73px", color: "#1A1A1A"}, v);
});
</script>
</body>
</html>
